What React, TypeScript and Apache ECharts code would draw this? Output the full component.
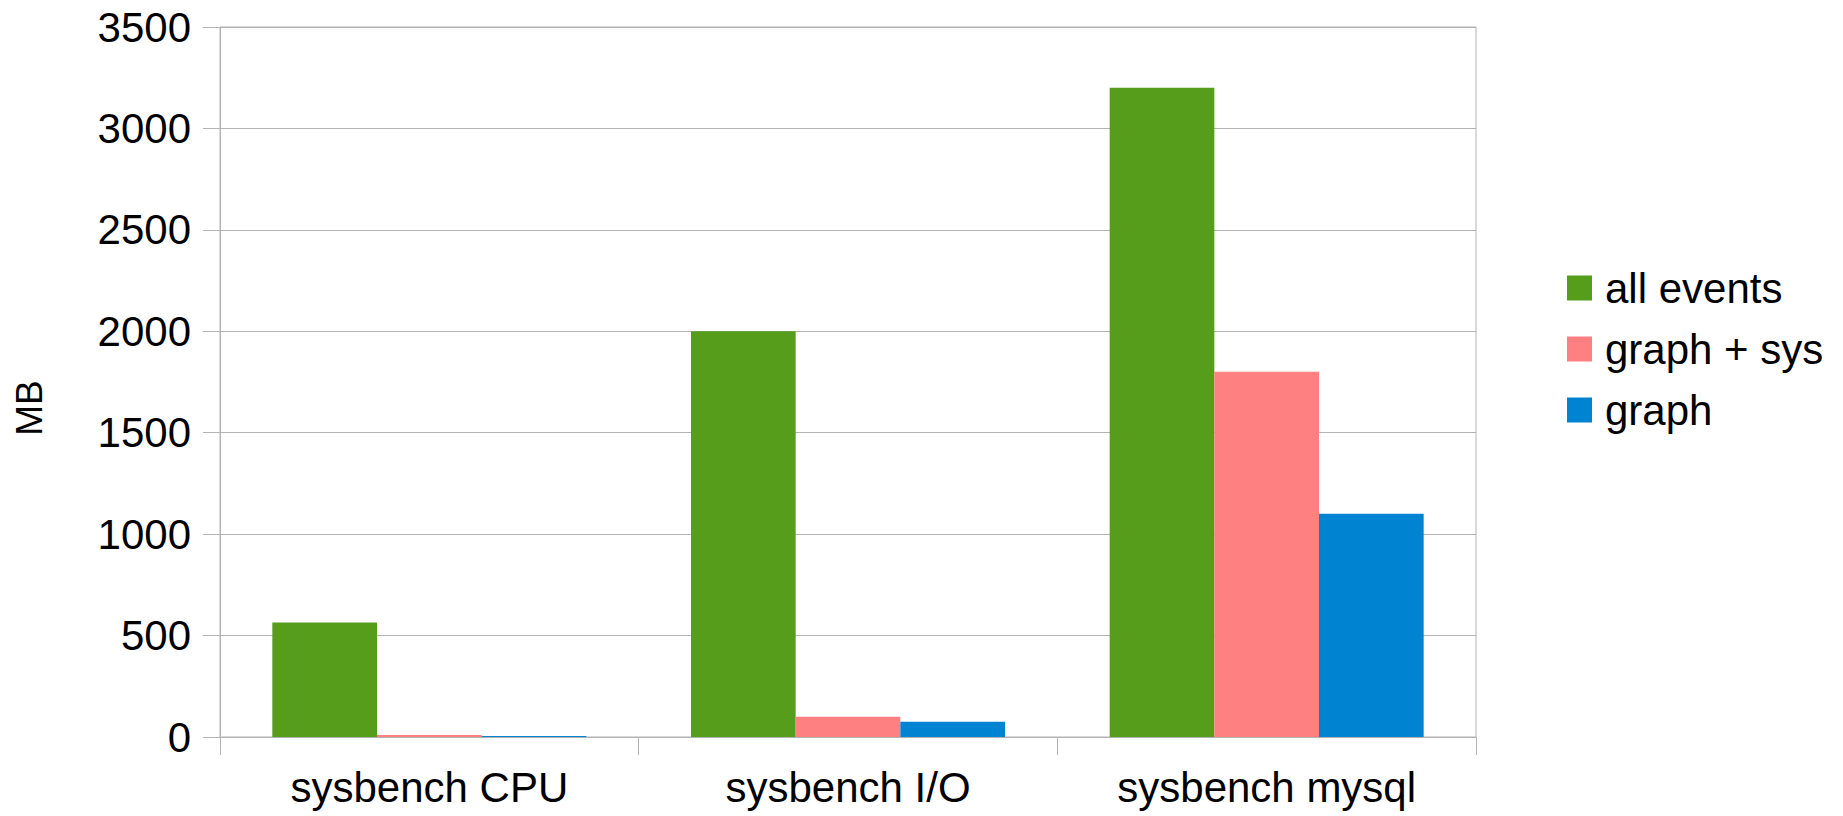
import React, { useEffect, useRef } from "react";
import * as echarts from "echarts";

const categories = ["sysbench CPU", "sysbench I/O", "sysbench mysql"];
const allEvents = [565, 2000, 3200];
const graphSys = [10, 100, 1800];
const graphOnly = [5, 75, 1100];
const yTicks = { min: 0, max: 3500, interval: 500 };

const FONT = "'Liberation Sans', Arial, sans-serif";
const GRID = "#b3b3b3";

export default function App() {
  const ref = useRef<HTMLDivElement>(null);
  useEffect(() => {
    const chart = echarts.init(ref.current!, undefined, { renderer: "svg" });
    chart.setOption({
      animation: false,
      backgroundColor: "#ffffff",
      textStyle: { fontFamily: FONT },
      grid: {
        left: 220,
        right: 367,
        top: 27,
        bottom: 79,
        show: true,
        borderColor: GRID,
        borderWidth: 1,
      },
      legend: {
        orient: "vertical",
        left: 1567,
        top: 267,
        padding: 0,
        itemWidth: 25,
        itemHeight: 25,
        itemGap: 19,
        icon: "rect",
        textStyle: {
          fontSize: 42,
          color: "#000",
          fontFamily: FONT,
          lineHeight: 42,
          padding: [0, 0, 0, 8],
        },
        data: ["all events", "graph + sys", "graph"],
      },
      xAxis: {
        type: "category",
        data: categories,
        axisLine: { show: true, lineStyle: { color: GRID, width: 1 } },
        axisTick: { show: true, length: 18, alignWithLabel: false, lineStyle: { color: GRID } },
        axisLabel: { fontSize: 42, color: "#000", margin: 29, fontFamily: FONT },
        splitLine: { show: false },
      },
      yAxis: {
        type: "value",
        min: yTicks.min,
        max: yTicks.max,
        interval: yTicks.interval,
        axisLine: { show: true, lineStyle: { color: GRID, width: 1 } },
        axisTick: { show: true, length: 17, lineStyle: { color: GRID } },
        axisLabel: {
          fontSize: 42,
          color: "#000",
          margin: 29,
          fontFamily: FONT,
          formatter: (v: number) => String(v),
        },
        splitLine: { show: true, lineStyle: { color: GRID, width: 1 } },
      },
      graphic: [
        {
          type: "text",
          x: 29,
          y: 408,
          rotation: Math.PI / 2,
          style: {
            text: "MB",
            fontSize: 37,
            fontFamily: FONT,
            fill: "#000",
            align: "center",
            verticalAlign: "middle",
            textAlign: "center",
            textVerticalAlign: "middle",
          },
        },
      ],
      series: [
        {
          name: "all events",
          type: "bar",
          data: allEvents,
          barGap: "0%",
          barCategoryGap: "25%",
          itemStyle: { color: "#579d1c" },
        },
        {
          name: "graph + sys",
          type: "bar",
          data: graphSys,
          barGap: "0%",
          barCategoryGap: "25%",
          itemStyle: { color: "#ff8080" },
        },
        {
          name: "graph",
          type: "bar",
          data: graphOnly,
          barGap: "0%",
          barCategoryGap: "25%",
          itemStyle: { color: "#0084d1" },
        },
      ],
    });
    return () => chart.dispose();
  }, []);
  return (
    <div
      ref={ref}
      style={{ position: "fixed", left: 0, top: 0, width: 1843, height: 816 }}
    />
  );
}
